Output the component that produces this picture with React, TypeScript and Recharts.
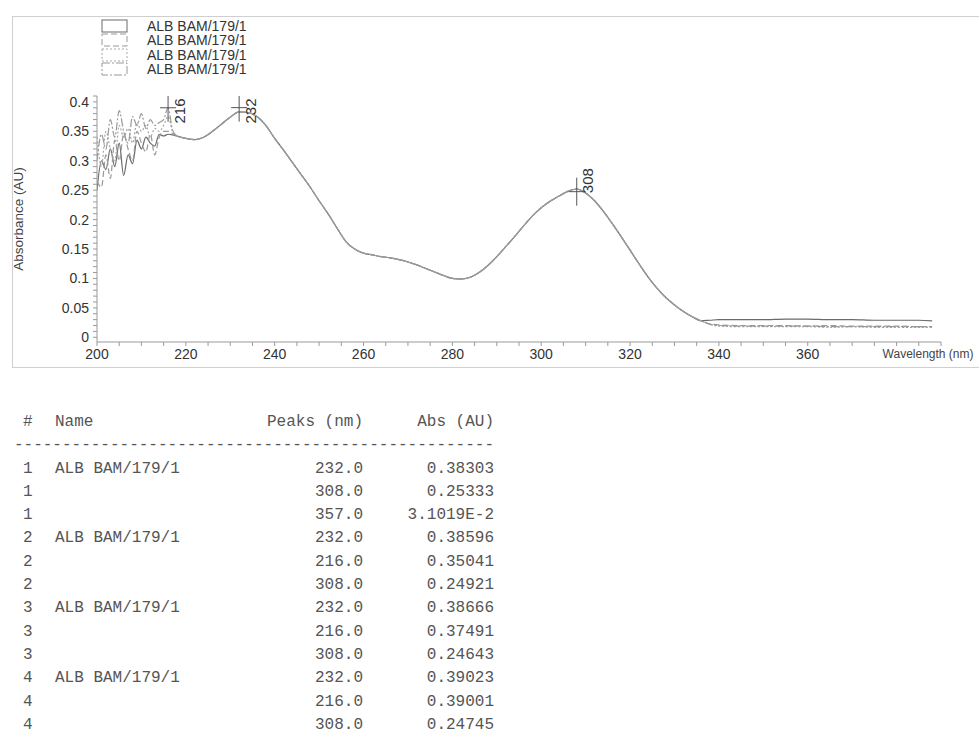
import { LineChart, Line, XAxis, YAxis, Legend, ReferenceDot } from 'recharts'

// wavelength grid (nm): noisy start at 1 nm, body at 2 nm, flat tail coarser
const headWavelengths = [200, 201, 202, 203, 204, 205, 206, 207, 208, 209, 210, 211, 212, 213, 214, 215, 216, 217]
const bodyWavelengths = [
  218, 220, 222, 224, 226, 228, 230, 232, 234, 236, 238, 240, 242, 244, 246, 248, 250, 252, 254, 256,
  258, 260, 262, 264, 266, 268, 270, 272, 274, 276, 278, 280, 282, 284, 286, 288, 290, 292, 294, 296,
  298, 300, 302, 304, 306, 308, 310, 312, 314, 316, 318, 320, 322, 324, 326, 328, 330, 332, 334, 336,
]
const tailWavelengths = [338, 340, 345, 350, 355, 360, 365, 370, 375, 380, 385, 388]

// the four runs lie on top of each other between ~218 and ~336 nm
const sharedBody = [
  0.342, 0.338, 0.336, 0.340, 0.350, 0.362, 0.374, 0.383, 0.382, 0.375, 0.360, 0.338, 0.318, 0.297, 0.276, 0.255, 0.232, 0.210, 0.186, 0.163,
  0.150, 0.143, 0.140, 0.137, 0.135, 0.132, 0.128, 0.123, 0.117, 0.111, 0.105, 0.100, 0.099, 0.102, 0.110, 0.122, 0.137, 0.154, 0.171, 0.189,
  0.206, 0.220, 0.231, 0.240, 0.248, 0.252, 0.245, 0.232, 0.214, 0.193, 0.171, 0.148, 0.125, 0.103, 0.084, 0.068, 0.055, 0.044, 0.035, 0.028,
]

const head1 = [0.250, 0.300, 0.285, 0.320, 0.290, 0.330, 0.275, 0.310, 0.295, 0.335, 0.320, 0.340, 0.330, 0.325, 0.345, 0.342, 0.345, 0.344]
const head2 = [0.265, 0.255, 0.310, 0.270, 0.335, 0.300, 0.345, 0.320, 0.300, 0.350, 0.330, 0.315, 0.345, 0.310, 0.340, 0.350, 0.350, 0.346]
const head3 = [0.340, 0.290, 0.350, 0.320, 0.300, 0.360, 0.340, 0.355, 0.330, 0.365, 0.350, 0.360, 0.340, 0.355, 0.350, 0.360, 0.375, 0.350]
const head4 = [0.300, 0.345, 0.320, 0.370, 0.340, 0.385, 0.350, 0.330, 0.375, 0.360, 0.380, 0.355, 0.370, 0.360, 0.365, 0.370, 0.390, 0.352]

const tail1 = [0.029, 0.030, 0.030, 0.030, 0.031, 0.031, 0.030, 0.030, 0.029, 0.029, 0.029, 0.028]
const tail2 = [0.023, 0.021, 0.020, 0.020, 0.020, 0.019, 0.020, 0.019, 0.019, 0.019, 0.018, 0.018]
const tail3 = [0.022, 0.019, 0.018, 0.018, 0.018, 0.018, 0.017, 0.018, 0.017, 0.017, 0.017, 0.017]
const tail4 = [0.022, 0.020, 0.019, 0.019, 0.019, 0.019, 0.018, 0.018, 0.018, 0.018, 0.018, 0.018]

const seriesNames = ['ALB BAM/179/1', 'ALB BAM/179/1', 'ALB BAM/179/1', 'ALB BAM/179/1']
const seriesKeys = ['s1', 's2', 's3', 's4']
const seriesColors = ['#6a6a6a', '#999999', '#a6a6a6', '#999999']
const seriesDash = ['', '6 3', '2 2', '8 2 2 2']

// peaks marked on the plot (last run)
const peakWavelengths = [216, 232, 308]
const peakValues = [0.39001, 0.39023, 0.24745]

// peak table
const tableIds = ['1', '1', '1', '2', '2', '2', '3', '3', '3', '4', '4', '4']
const tableNames = ['ALB BAM/179/1', '', '', 'ALB BAM/179/1', '', '', 'ALB BAM/179/1', '', '', 'ALB BAM/179/1', '', '']
const tablePeaks = ['232.0', '308.0', '357.0', '232.0', '216.0', '308.0', '232.0', '216.0', '308.0', '232.0', '216.0', '308.0']
const tableAbs = ['0.38303', '0.25333', '3.1019E-2', '0.38596', '0.35041', '0.24921', '0.38666', '0.37491', '0.24643', '0.39023', '0.39001', '0.24745']

const wavelengths = [...headWavelengths, ...bodyWavelengths, ...tailWavelengths]
const series1 = [...head1, ...sharedBody, ...tail1]
const series2 = [...head2, ...sharedBody, ...tail2]
const series3 = [...head3, ...sharedBody, ...tail3]
const series4 = [...head4, ...sharedBody, ...tail4]

const data = wavelengths.map((w, i) => ({ w, s1: series1[i], s2: series2[i], s3: series3[i], s4: series4[i] }))

const xTicks = Array.from({ length: 39 }, (_, i) => 200 + i * 5)
const yTicks = Array.from({ length: 42 }, (_, i) => i / 100)

const FONT = '"Liberation Sans", Arial, sans-serif'
const MONO = '"Liberation Mono", "DejaVu Sans Mono", monospace'
const PLOT_TOP = 96

function XTick(props: any) {
  const { x, y, payload } = props
  const v = payload.value
  if (v === 380) {
    return (
      <text x={x - 14} y={y} dy="0.71em" textAnchor="start" fontSize={12} fill="#444" fontFamily={FONT}>
        Wavelength (nm)
      </text>
    )
  }
  if (v % 20 !== 0 || v > 360) return <g />
  return (
    <text x={x} y={y} dy="0.71em" textAnchor="middle" fontSize={14} fill="#333" fontFamily={FONT}>
      {v}
    </text>
  )
}

function PeakMark(props: any) {
  const { cx, cy, text } = props
  if (cx == null || cy == null) return <g />
  const lineTop = Math.max(cy - 14, PLOT_TOP)
  const lineBottom = cy + 14
  const labelBottom = Math.max(cy + 3, PLOT_TOP + 29)
  const labelY = labelBottom - 14
  const labelX = cx + 11
  return (
    <g>
      <line x1={cx} x2={cx} y1={lineTop} y2={lineBottom} stroke="#555" strokeWidth={1} />
      <line x1={cx - 8} x2={cx + 8} y1={cy} y2={cy} stroke="#555" strokeWidth={1} />
      <text
        x={labelX}
        y={labelY}
        transform={`rotate(-90, ${labelX}, ${labelY})`}
        textAnchor="middle"
        dominantBaseline="central"
        fontSize={15}
        fill="#333"
        fontFamily={FONT}
      >
        {text}
      </text>
    </g>
  )
}

function LegendBox() {
  return (
    <div style={{ fontFamily: FONT, fontSize: 14, color: '#333' }}>
      {seriesNames.map((name, i) => (
        <div key={i} style={{ display: 'flex', alignItems: 'center', height: 14.3 }}>
          <svg width={28} height={14} style={{ display: 'block' }}>
            <rect
              x={1}
              y={1}
              width={25}
              height={12}
              fill="none"
              stroke={seriesColors[i]}
              strokeWidth={1}
              strokeDasharray={seriesDash[i] || undefined}
            />
          </svg>
          <span style={{ marginLeft: 18, lineHeight: '14px' }}>{name}</span>
        </div>
      ))}
    </div>
  )
}

export default function App() {
  return (
    <div
      style={{
        position: 'absolute',
        left: 0,
        top: 0,
        width: 979,
        height: 735,
        overflow: 'hidden',
        background: '#fff',
        fontFamily: FONT,
      }}
    >
      <div
        style={{
          position: 'absolute',
          left: 12,
          top: 16,
          width: 1000,
          height: 350,
          border: '1px solid #cfcfcf',
        }}
      />
      <div style={{ position: 'absolute', left: 0, top: 0 }}>
        <LineChart width={1000} height={380} data={data} margin={{ top: 96, right: 59, bottom: 8, left: 0 }}>
          <XAxis
            dataKey="w"
            type="number"
            domain={[200, 390]}
            ticks={xTicks}
            interval={0}
            height={30}
            tickSize={4}
            tickMargin={3}
            stroke="#9a9a9a"
            tick={<XTick />}
            allowDataOverflow
          />
          <YAxis
            type="number"
            domain={[-0.008, 0.41]}
            ticks={yTicks}
            interval={0}
            width={97}
            tickSize={4}
            tickMargin={4}
            stroke="#9a9a9a"
            allowDataOverflow
            tick={{ fontSize: 14, fill: '#333', fontFamily: FONT }}
            tickFormatter={(v: number) => (Math.round(v * 100) % 5 === 0 ? String(Number(v.toFixed(2))) : '')}
            label={{
              content: (p: any) => {
                const vb = p.viewBox || { y: 96, height: 246 }
                const cy = vb.y + vb.height / 2
                return (
                  <text
                    x={18}
                    y={cy}
                    transform={`rotate(-90, 18, ${cy})`}
                    textAnchor="middle"
                    dominantBaseline="central"
                    fontSize={13.5}
                    fill="#444"
                    fontFamily={FONT}
                  >
                    Absorbance (AU)
                  </text>
                )
              },
            }}
          />
          <Legend
            layout="horizontal"
            verticalAlign="middle"
            align="center"
            content={() => <LegendBox />}
            wrapperStyle={{ position: 'absolute', left: 101, top: 19, width: 200 }}
          />
          {seriesKeys.map((k, i) => (
            <Line
              key={k}
              type="monotone"
              dataKey={k}
              name={seriesNames[i]}
              stroke={seriesColors[i]}
              strokeWidth={1.2}
              strokeDasharray={seriesDash[i] || undefined}
              dot={false}
              isAnimationActive={false}
            />
          ))}
          {peakWavelengths.map((w, i) => (
            <ReferenceDot
              key={w}
              x={w}
              y={peakValues[i]}
              ifOverflow="visible"
              shape={(p: any) => <PeakMark {...p} text={String(w)} />}
            />
          ))}
        </LineChart>
      </div>
      <div
        style={{
          position: 'absolute',
          left: 0,
          top: 411,
          fontFamily: MONO,
          fontSize: 16,
          color: '#555',
          width: 520,
        }}
      >
        <div style={{ position: 'relative', height: 23.3, lineHeight: '23.3px' }}>
          <span style={{ position: 'absolute', left: 23 }}>#</span>
          <span style={{ position: 'absolute', left: 55 }}>Name</span>
          <span style={{ position: 'absolute', left: 200, width: 163, textAlign: 'right' }}>Peaks (nm)</span>
          <span style={{ position: 'absolute', left: 380, width: 114, textAlign: 'right' }}>Abs (AU)</span>
        </div>
        <div style={{ position: 'relative', height: 23.3, lineHeight: '23.3px' }}>
          <span style={{ position: 'absolute', left: 13, width: 481, textAlign: 'right', whiteSpace: 'pre', overflow: 'hidden' }}>
            {'-'.repeat(50)}
          </span>
        </div>
        {tableIds.map((id, i) => (
          <div key={i} style={{ position: 'relative', height: 23.3, lineHeight: '23.3px' }}>
            <span style={{ position: 'absolute', left: 23 }}>{id}</span>
            <span style={{ position: 'absolute', left: 55 }}>{tableNames[i]}</span>
            <span style={{ position: 'absolute', left: 200, width: 163, textAlign: 'right' }}>{tablePeaks[i]}</span>
            <span style={{ position: 'absolute', left: 380, width: 114, textAlign: 'right' }}>{tableAbs[i]}</span>
          </div>
        ))}
      </div>
    </div>
  )
}
